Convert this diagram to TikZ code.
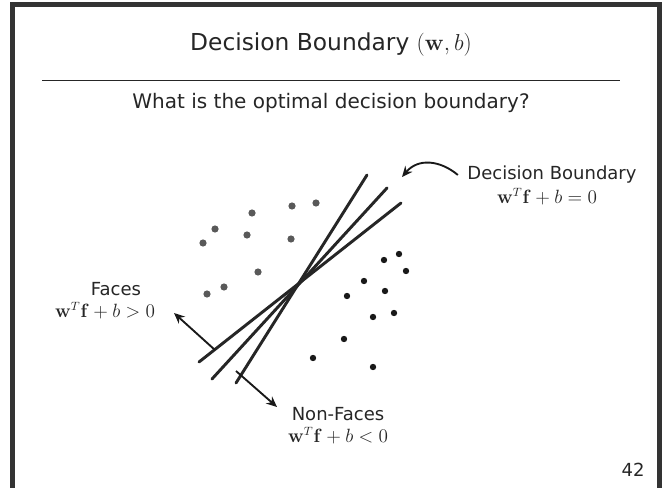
\documentclass[tikz,border=0pt]{standalone}
\usepackage[no-math]{fontspec}
\setmainfont{DejaVu Sans}
\usetikzlibrary{arrows.meta}

\begin{document}
\begin{tikzpicture}[x=0.75pt,y=-0.75pt,
  boundary/.style={draw=black!85,line width=2.2pt,line cap=round},
  pointer/.style={draw=black!90,line width=1.4pt,-{Stealth[length=8pt,width=7pt]}},
  face/.style={fill=black!65},
  nonface/.style={fill=black!90},
  caption/.style={font=\fontsize{13.5}{16}\selectfont,text=black!85,inner sep=0pt}]
\useasboundingbox (0,0) rectangle (663,488);
\fill[white] (0,0) rectangle (663,488);
\draw[black!80,line width=3.75pt] (12.5,490) -- (12.5,4.5) -- (659.5,4.5) -- (659.5,490);

\node[font=\fontsize{17.5}{20}\selectfont,text=black!85] (title) at (331,45) {Decision Boundary $(\mathbf{w},b)$};
\draw[black!85,line width=0.75pt] (42,81) -- (620,81);
\node[font=\fontsize{15}{18}\selectfont,text=black!85] (question) at (331,103) {What is the optimal decision boundary?};

% faces and non-faces
\foreach \x/\y in {292/206,316/203,252/213,215/229,247/235,291/239,203/243,258/272,224/287,207/294}
  \fill[face] (\x,\y) circle (3.6);
\foreach \x/\y in {384/260,399/254,406/271,364/281,385/291,347/296,394/313,373/317,344/339,313/358,373/367}
  \fill[nonface] (\x,\y) circle (3.2);

% candidate boundaries
\coordinate (a1) at (367,175); \coordinate (a2) at (236,383);
\coordinate (b1) at (387,188); \coordinate (b2) at (212,379);
\coordinate (c1) at (401,203); \coordinate (c2) at (199,362);
\draw[boundary] (a1) -- (a2);
\draw[boundary] (b1) -- (b2);
\draw[boundary] (c1) -- (c2);

\node[caption] (dbtext) at (552,175) {Decision Boundary};
\node[caption] (dbform) at (547,197) {$\mathbf{w}^T\mathbf{f}+b=0$};
\node[caption] (ftext) at (116,289) {Faces};
\node[caption] (fform) at (105,311) {$\mathbf{w}^T\mathbf{f}+b>0$};
\node[caption] (ntext) at (338,414) {Non-Faces};
\node[caption] (nform) at (338,436) {$\mathbf{w}^T\mathbf{f}+b<0$};
\node[caption] (page) at (633,470) {42};

\coordinate (dbtip) at (402,177);
\coordinate (fbase) at (215,350); \coordinate (ftip) at (174,313);
\coordinate (nbase) at (236,371); \coordinate (ntip) at (277,407);
\draw[pointer] ([xshift=-7pt]dbtext.west) .. controls (440,160) and (418,158) .. (dbtip);
\draw[pointer] (fbase) -- (ftip);
\draw[pointer] (nbase) -- (ntip);

\end{tikzpicture}
\end{document}
